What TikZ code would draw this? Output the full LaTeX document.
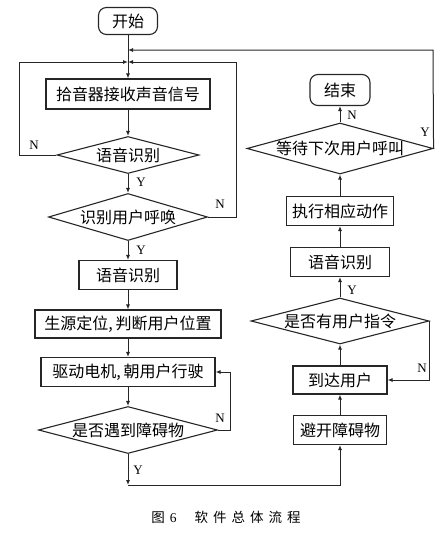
\documentclass[tikz,border=0pt]{standalone}
\usepackage{fontspec}
\setmainfont{Liberation Serif}
\newfontfamily\cjk{Noto Sans CJK SC}
\newcommand\cjkfs{\cjk\fontsize{16}{18}\selectfont}
\usetikzlibrary{shapes.geometric,arrows.meta}
\begin{document}
\begin{tikzpicture}[x=1pt,y=-1pt,
  box/.style={rectangle, draw=black!85, line width=1.1pt, inner sep=0pt, font=\cjkfs},
  term/.style={box, rounded corners=8pt},
  dia/.style={diamond, draw=black!85, line width=1.1pt, inner sep=0pt, label={[font=\cjkfs]center:#1}},
  line/.style={draw=black!85, line width=1pt},
  arr/.style={line, -{Latex[length=5pt,width=4pt]}},
  yn/.style={font=\fontsize{13}{14}\selectfont, inner sep=1pt}]
\useasboundingbox (0,0) rectangle (444,533);
% left column
\node[term, minimum width=59pt, minimum height=27pt] (start) at (128,21) {开始};
\node[box, minimum width=164pt, minimum height=30pt] (b1) at (128,94) {拾音器接收声音信号};
\node[dia={语音识别}, minimum width=142pt, minimum height=37pt] (d1) at (128,155) {};
\node[dia={识别用户呼唤}, minimum width=159pt, minimum height=47pt] (d2) at (128,217) {};
\node[box, minimum width=98pt, minimum height=29pt] (b2) at (128,275) {语音识别};
\node[box, minimum width=186pt, minimum height=28pt] (b3) at (128,324) {生源定位,\hspace{3pt}判断用户位置};
\node[box, minimum width=174pt, minimum height=29pt] (b4) at (128,372) {驱动电机,\hspace{3pt}朝用户行驶};
\node[dia={是否遇到障碍物}, minimum width=179pt, minimum height=47pt] (d3) at (128,430) {};
% right column
\node[box, minimum width=93pt, minimum height=29pt] (b5) at (340,430) {避开障碍物};
\node[box, minimum width=94pt, minimum height=28pt] (b6) at (340,380) {到达用户};
\node[dia={是否有用户指令}, minimum width=178pt, minimum height=46pt] (d4) at (340,321) {};
\node[box, minimum width=99pt, minimum height=29pt] (b7) at (340,262) {语音识别};
\node[box, minimum width=107pt, minimum height=29pt] (b8) at (340,211) {执行相应动作};
\node[dia={等待下次用户呼叫}, minimum width=186pt, minimum height=51pt] (d5) at (340,148.5) {};
\node[term, minimum width=60pt, minimum height=31pt] (end) at (340,90) {结束};
% junctions
\coordinate (j1) at (128,50);
\coordinate (j2) at (128,62);
\coordinate (lL) at (19,62);
\coordinate (lR) at (236,62);
\coordinate (tR) at (433,50);
\coordinate (r3) at (230,372);
\coordinate (c1) at (128,485);
% connectors
\draw[arr] (start) -- (b1);
\draw[arr] (b1) -- (d1);
\draw[arr] (d1) -- (d2);
\draw[arr] (d1.west) -| (lL) -- (j2);
\draw[arr] (d2.east) -| (lR) -- (j2);
\draw[arr] (d2) -- (b2);
\draw[arr] (b2) -- (b3);
\draw[arr] (b3) -- (b4);
\draw[arr] (b4) -- (d3);
\draw[arr] (d3.east) -| (r3) -- (b4.east);
\draw[arr] (d3.south) -- (c1);
\draw[arr] (c1) -| (b5.south);
\draw[arr] (b5) -- (b6);
\draw[arr] (b6) -- (d4);
\draw[arr] (d4.east) |- (b6.east);
\draw[arr] (d4) -- (b7);
\draw[arr] (b7) -- (b8);
\draw[arr] (b8) -- (d5);
\draw[arr] (d5) -- (end);
\draw[arr] (d5.east) -- (tR) -- (j1);
% labels
\node[yn] (n1) at (34,145) {N};
\node[yn] (y1) at (141,182) {Y};
\node[yn] (n2) at (220,204) {N};
\node[yn] (y2) at (141,250) {Y};
\node[yn] (n3) at (220,418) {N};
\node[yn] (y3) at (138,470) {Y};
\node[yn] (n4) at (422,368) {N};
\node[yn] (y4) at (352,290) {Y};
\node[yn] (n5) at (352,115) {N};
\node[yn] (y5) at (425,132) {Y};
% caption
\node[font=\fontsize{13.5}{15}\selectfont, inner sep=0pt] (cap) at (226,517)
  {{\cjk 图}\hspace{5pt}6\hspace{18pt}{\cjk 软\hspace{5pt}件\hspace{5pt}总\hspace{5pt}体\hspace{5pt}流\hspace{5pt}程}};
\end{tikzpicture}
\end{document}
